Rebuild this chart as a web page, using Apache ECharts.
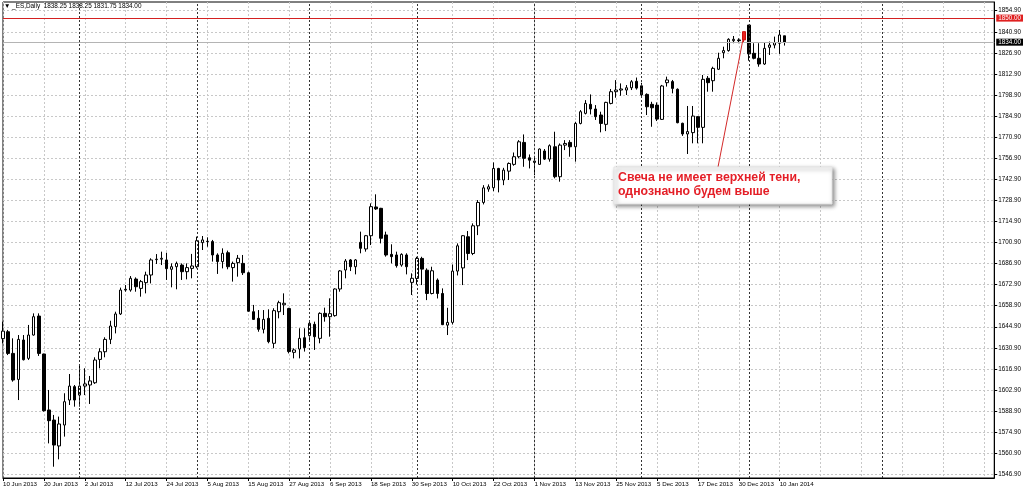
<!DOCTYPE html>
<html><head><meta charset="utf-8">
<script src="https://cdn.jsdelivr.net/npm/echarts@6/dist/echarts.min.js"></script>
<style>html,body{margin:0;padding:0;background:#fff}#c{width:1024px;height:490px}</style>
</head><body><div id="c"></div>
<script>
// ---- data ----
const startDate = '2013-06-10';
const holidays = ['2013-12-25', '2014-01-01'];
const totalSlots = 195;          // bars + empty future space on the right (chart shift, calendar days)
const labelEvery = 8;
// [open, high, low, close]
const candles = [
[1637.0,1648.3,1633.9,1642.0],[1641.6,1642.8,1626.1,1627.2],[1627.2,1637.2,1608.4,1609.5],[1609.9,1639.4,1596.2,1636.5],
[1636.1,1639.4,1622.5,1623.0],[1623.9,1646.1,1622.8,1639.4],[1639.4,1653.8,1639.0,1651.6],[1652.0,1653.8,1625.5,1627.2],
[1626.8,1627.0,1588.5,1589.1],[1589.6,1602.9,1567.4,1582.5],[1582.9,1586.3,1551.9,1566.3],[1565.7,1585.2,1556.8,1580.3],
[1579.6,1600.7,1571.9,1595.1],[1596.2,1613.5,1592.9,1605.5],[1605.1,1606.2,1591.8,1596.2],[1599.5,1620.1,1591.8,1605.5],
[1605.5,1617.3,1599.5,1606.9],[1606.2,1612.2,1593.6,1608.9],[1607.7,1624.6,1606.9,1622.8],[1623.2,1630.6,1617.3,1628.3],
[1628.3,1637.9,1624.6,1636.5],[1636.5,1648.9,1633.4,1645.4],[1645.0,1654.9,1640.5,1653.4],[1653.4,1670.9,1652.7,1669.3],
[1669.3,1672.6,1668.2,1669.8],[1669.3,1678.6,1668.2,1677.1],[1676.6,1677.7,1668.2,1671.5],[1670.4,1676.0,1664.9,1674.9],
[1674.2,1681.5,1667.1,1679.3],[1679.3,1690.4,1673.7,1689.3],[1689.5,1693.2,1686.6,1689.8],[1689.8,1694.8,1685.9,1690.4],
[1689.3,1694.1,1676.0,1683.5],[1683.1,1687.0,1671.1,1684.8],[1684.8,1688.2,1669.8,1687.0],[1685.9,1687.0,1676.0,1681.5],
[1681.5,1687.0,1676.4,1684.2],[1683.7,1693.3,1677.1,1685.3],[1684.8,1704.8,1683.7,1702.1],[1700.8,1705.2,1695.9,1702.6],
[1701.7,1704.3,1698.1,1701.5],[1701.5,1702.6,1688.2,1692.6],[1692.6,1693.7,1680.0,1688.2],[1688.2,1697.0,1683.7,1693.7],
[1694.1,1695.5,1683.1,1684.8],[1684.2,1688.2,1674.9,1687.0],[1687.5,1692.6,1678.2,1690.4],[1687.0,1692.6,1679.3,1680.8],
[1680.8,1681.5,1654.9,1655.2],[1654.9,1659.4,1649.4,1649.8],[1650.5,1656.0,1641.6,1643.2],[1643.2,1656.0,1640.5,1649.8],
[1650.5,1656.5,1633.9,1635.0],[1633.9,1657.2,1630.6,1655.6],[1654.9,1662.2,1650.5,1660.9],[1659.5,1667.1,1652.7,1660.5],
[1657.0,1657.5,1627.2,1628.4],[1627.9,1630.6,1623.9,1629.5],[1630.1,1643.9,1623.9,1637.2],[1637.6,1643.9,1628.4,1631.0],
[1639.0,1648.3,1635.4,1647.2],[1646.5,1648.3,1629.5,1638.3],[1637.2,1654.5,1633.9,1653.8],[1653.8,1657.6,1648.3,1651.6],
[1651.6,1663.8,1638.3,1653.6],[1652.3,1670.4,1651.6,1670.0],[1670.0,1682.6,1668.2,1682.0],[1682.6,1689.9,1677.1,1688.6],
[1689.3,1689.9,1681.9,1684.8],[1684.8,1689.9,1679.7,1689.3],[1701.0,1708.1,1693.7,1697.0],[1696.6,1705.9,1694.8,1705.4],
[1705.4,1726.9,1699.2,1724.7],[1724.5,1732.9,1722.5,1723.2],[1723.6,1723.9,1700.3,1703.7],[1705.9,1708.1,1691.5,1692.6],
[1693.0,1699.7,1687.0,1691.5],[1692.6,1694.8,1684.2,1685.5],[1685.9,1693.7,1684.8,1693.0],[1692.6,1693.7,1679.7,1684.8],
[1674.4,1680.4,1666.0,1677.1],[1677.0,1691.4,1673.0,1690.3],[1690.3,1691.4,1672.6,1683.2],[1682.5,1683.7,1662.6,1667.0],
[1667.0,1684.8,1666.4,1682.1],[1675.9,1677.0,1663.7,1667.0],[1667.0,1670.4,1646.0,1646.3],[1646.0,1657.5,1639.4,1647.8],
[1647.8,1686.3,1646.4,1681.9],[1681.9,1700.3,1679.0,1698.7],[1684.0,1705.8,1672.6,1705.4],[1704.7,1708.5,1689.2,1693.6],
[1693.6,1713.6,1692.5,1712.0],[1712.0,1729.1,1705.8,1727.5],[1727.5,1739.0,1726.2,1737.2],[1736.4,1739.5,1734.6,1737.9],
[1737.3,1754.1,1735.0,1750.1],[1750.1,1750.5,1734.2,1742.4],[1742.4,1750.5,1739.0,1749.0],[1748.3,1754.1,1742.4,1753.4],
[1752.8,1760.7,1751.9,1757.9],[1757.9,1768.9,1756.8,1767.8],[1767.4,1772.7,1751.2,1756.8],[1757.2,1759.4,1750.1,1755.6],
[1754.1,1757.9,1745.7,1755.0],[1752.8,1763.4,1752.4,1763.0],[1761.7,1763.0,1755.7,1756.3],[1756.3,1766.1,1754.6,1765.2],
[1764.5,1774.5,1743.5,1744.6],[1744.6,1766.7,1741.3,1765.6],[1765.6,1768.9,1762.3,1766.7],[1767.4,1768.9,1757.9,1764.5],
[1764.5,1781.1,1754.6,1780.0],[1780.0,1788.9,1779.4,1787.8],[1786.7,1795.5,1786.0,1793.3],[1792.7,1799.3,1786.0,1789.6],
[1789.6,1792.2,1782.3,1784.5],[1785.6,1787.8,1774.1,1780.0],[1779.4,1794.4,1774.9,1794.0],[1793.3,1802.9,1792.7,1801.1],
[1801.1,1808.8,1797.1,1802.2],[1802.2,1806.6,1798.4,1802.9],[1802.2,1805.5,1798.9,1803.7],[1803.7,1808.8,1802.2,1807.7],
[1808.0,1810.5,1802.5,1803.5],[1805.0,1807.0,1798.0,1799.0],[1799.3,1800.0,1785.6,1791.1],[1792.7,1794.4,1777.8,1790.4],
[1792.2,1794.0,1781.6,1782.9],[1782.7,1805.6,1782.3,1804.9],[1807.1,1811.1,1804.5,1808.9],[1807.8,1808.9,1800.0,1803.3],
[1802.7,1803.3,1780.1,1780.5],[1780.1,1780.5,1771.7,1773.0],[1773.0,1791.6,1759.7,1774.6],[1773.9,1791.6,1766.8,1784.9],
[1784.5,1784.9,1766.8,1777.4],[1777.4,1812.2,1766.8,1809.3],[1810.0,1811.5,1801.1,1807.1],[1808.4,1817.7,1801.1,1816.6],
[1816.0,1827.0,1815.5,1823.3],[1827.0,1831.0,1823.3,1828.4],[1828.4,1836.6,1827.7,1835.9],[1835.0,1838.1,1833.3,1835.9],
[1835.5,1836.6,1833.3,1835.0],[1835.5,1841.0,1834.0,1841.0],[1845.4,1845.4,1821.7,1826.2],[1826.6,1833.3,1822.6,1823.3],
[1823.3,1833.3,1817.7,1819.5],[1819.5,1833.7,1818.9,1829.9],[1830.6,1834.4,1825.5,1832.1],[1832.1,1837.7,1829.9,1833.7],
[1833.3,1842.1,1826.2,1838.8],[1838.25,1838.25,1831.75,1834.00]
];
const priceTicks = [1546.9,1560.9,1574.9,1588.9,1602.9,1616.9,1630.9,1644.9,1658.9,1672.9,1686.9,1700.9,
  1714.9,1728.9,1742.9,1756.9,1770.9,1784.9,1798.9,1812.9,1826.9,1840.9,1854.9];
const priceMin = 1544.4, priceMax = 1860.7;
const monthSeparators = ['1 Jul 2013','1 Aug 2013','2 Sep 2013','1 Oct 2013','1 Nov 2013','2 Dec 2013','2 Jan 2014','1 Feb 2014'];
const resistanceLevel = 1850.00;
const lastPrice = 1834.00;
const headerText = '\u25BC _ES,Daily  1838.25 1838.25 1831.75 1834.00';
const noteLines = ['Свеча не имеет верхней тени,', 'однозначно будем выше'];
const noteCandle = 145;

// ---- categories: trading days for the bars, then calendar days for the empty future area ----
const MON = ['Jan','Feb','Mar','Apr','May','Jun','Jul','Aug','Sep','Oct','Nov','Dec'];
const dates = [];
{
  const d = new Date(startDate + 'T12:00:00Z');
  while (dates.length < totalSlots) {
    const iso = d.toISOString().slice(0,10);
    const wd = d.getUTCDay();
    const future = dates.length >= candles.length;
    if (future || (wd !== 0 && wd !== 6 && holidays.indexOf(iso) < 0)) {
      dates.push(d.getUTCDate() + ' ' + MON[d.getUTCMonth()] + ' ' + d.getUTCFullYear());
    }
    d.setUTCDate(d.getUTCDate() + 1);
  }
}

const FONT = 'Liberation Sans';
const seriesData = candles.map((r, i) => {
  const v = [r[0], r[3], r[2], r[1]];
  if (i === noteCandle) return {value: v, itemStyle: {color: '#e8231f', borderColor: '#d01010', color0: '#e8231f', borderColor0: '#d01010'}};
  return v;
});

const chart = echarts.init(document.getElementById('c'), null, {renderer: 'canvas'});
const option = {
  animation: false,
  backgroundColor: '#ffffff',
  grid: {left: 3, right: 29, top: 2, bottom: 12, show: true, borderColor: '#000', borderWidth: 1, backgroundColor: '#fff'},
  xAxis: {
    type: 'category', data: dates, boundaryGap: false,
    axisLine: {show: true, lineStyle: {color: '#000', width: 1}},
    axisTick: {show: true, length: 3, interval: (i) => i % labelEvery === 0 && i < candles.length, lineStyle: {color: '#000'}},
    axisLabel: {show: true, interval: (i) => i % labelEvery === 0 && i < candles.length, align: 'left', margin: 3,
      fontFamily: FONT, fontSize: 6.2, color: '#000'},
    splitLine: {show: true, interval: (i) => i % labelEvery === 0, lineStyle: {color: '#c8c8c8', type: [2, 2], width: 1}}
  },
  yAxis: {
    type: 'value', position: 'right', min: priceMin, max: priceMax, scale: true,
    axisLine: {show: true, lineStyle: {color: '#000', width: 1}},
    axisTick: {show: true, length: 3, customValues: priceTicks, lineStyle: {color: '#000'}},
    axisLabel: {show: true, customValues: priceTicks, margin: 4, fontFamily: FONT, fontSize: 6.3, color: '#000',
      formatter: (v) => v.toFixed(2)},
    splitLine: {show: true, lineStyle: {color: '#c8c8c8', type: [2, 2], width: 1}}
  },
  series: [{
    type: 'candlestick', data: seriesData, barWidth: 3, clip: true,
    itemStyle: {color: '#ffffff', color0: '#000000', borderColor: '#000000', borderColor0: '#000000', borderWidth: 1},
    markLine: {
      silent: true, symbol: 'none', animation: false,
      data: [
        ...monthSeparators.map(s => ({xAxis: s, lineStyle: {color: '#333', type: [2, 2], width: 1}, label: {show: false}})),
        {yAxis: lastPrice, lineStyle: {color: '#b4b4b4', type: 'solid', width: 1},
          label: {show: true, position: 'end', distance: 2, formatter: lastPrice.toFixed(2), color: '#fff',
            backgroundColor: '#000', padding: [1, 2, 0, 2], fontFamily: FONT, fontSize: 6.3}},
        {yAxis: resistanceLevel, lineStyle: {color: '#d42020', type: 'solid', width: 1},
          label: {show: true, position: 'end', distance: 2, formatter: resistanceLevel.toFixed(2), color: '#fff',
            backgroundColor: '#e02020', padding: [1, 2, 0, 2], fontFamily: FONT, fontSize: 6.3}}
      ]
    }
  }]
};
chart.setOption(option);

const tip = chart.convertToPixel({seriesIndex: 0}, [noteCandle, candles[noteCandle][0]]);
const box = {x: 614, y: 167, w: 218, h: 37};
chart.setOption({
  graphic: [
    {type: 'text', left: 4, top: 3, style: {text: headerText, font: '6.4px ' + FONT, fill: '#000'}, z: 100},
    {type: 'line', shape: {x1: box.x + 104, y1: box.y, x2: tip[0] - 1, y2: tip[1]}, style: {stroke: '#d42a2a', lineWidth: 1}, z: 90},
    {type: 'rect', shape: {x: box.x, y: box.y, width: box.w, height: box.h},
      style: {fill: '#fff', stroke: '#e4e4e4', lineWidth: 1, shadowBlur: 4, shadowOffsetX: 2, shadowOffsetY: 2, shadowColor: 'rgba(0,0,0,0.45)'}, z: 95},
    {type: 'text', x: box.x + 4, y: box.y + 11, style: {text: noteLines[0], font: 'bold 12.3px ' + FONT, fill: '#e41e26', textVerticalAlign: 'middle'}, z: 96},
    {type: 'text', x: box.x + 4, y: box.y + 25, style: {text: noteLines[1], font: 'bold 12.3px ' + FONT, fill: '#e41e26', textVerticalAlign: 'middle'}, z: 96}
  ]
});
</script></body></html>
